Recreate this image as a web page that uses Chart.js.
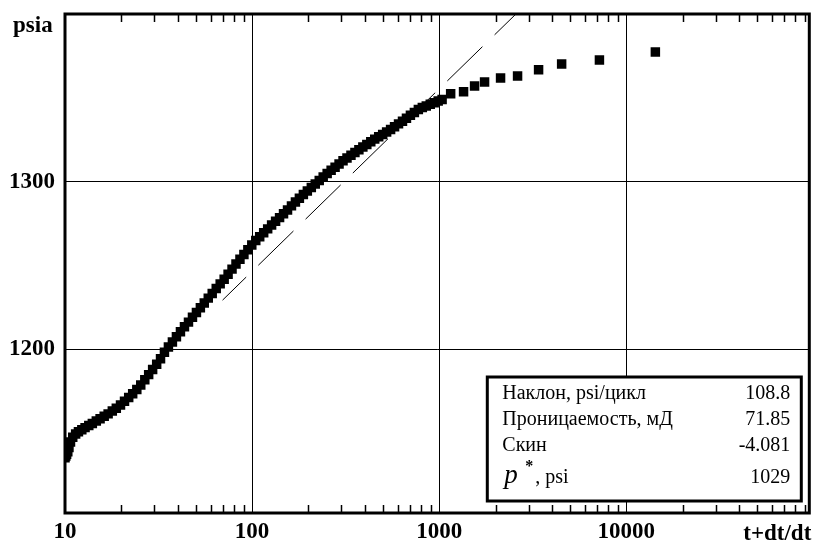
<!DOCTYPE html>
<html>
<head>
<meta charset="utf-8">
<script src="https://cdn.jsdelivr.net/npm/chart.js@4.4.1/dist/chart.umd.min.js"></script>
<style>
  html, body { margin: 0; padding: 0; background: #fff; }
  #wrap { width: 816px; height: 544px; }
</style>
</head>
<body>
<div id="wrap"><canvas id="horner" width="816" height="544"></canvas></div>
<script>
// Точки восстановления давления (t+dt/dt, psia)
const tRatio = [
  10.0, 10.1, 10.2, 10.35, 10.5, 10.7, 11.0, 11.4, 11.8, 12.3, 12.8, 13.4, 14.0, 14.7,
  15.4, 16.2, 17.0, 17.9, 18.8, 19.8, 20.8, 21.9, 23.0, 24.2, 25.4, 26.7, 28.0, 29.4,
  30.9, 32.4, 34.0, 35.7, 37.5, 39.4, 41.4, 43.5, 45.7, 48.0, 50.4, 52.9, 55.5, 58.3,
  61.2, 64.3, 67.5, 70.9, 74.4, 78.1, 82.0, 86.1, 90.4, 94.9, 99.6, 104.6, 109.8, 115.3,
  121.1, 127.1, 133.5, 140.2, 147.2, 154.6, 162.3, 170.4, 178.9, 187.9, 197.3, 207.2,
  217.5, 228.4, 239.8, 251.8, 264.4, 277.6, 291.5, 306.1, 321.4, 337.5, 354.4, 372.1,
  390.7, 410.2, 430.7, 452.2, 474.8, 498.5, 523.4, 549.6, 577.1, 606.0, 636.3, 668.1,
  701.5, 736.6, 773.4, 812.1, 852.7, 895.3, 940.1, 987.1, 1036,
  1151, 1349, 1545, 1747, 2127, 2622, 3396, 4510, 7180, 14290
];
const pressure = [
  1135.5, 1136.5, 1137.5, 1139.0, 1141.5, 1144.8, 1147.6, 1149.6, 1151.0, 1152.2, 1153.4, 1154.7, 1155.9, 1157.3,
  1158.7, 1160.2, 1161.6, 1163.3, 1165.0, 1166.9, 1169.1, 1171.3, 1173.6, 1176.1, 1178.8, 1181.9, 1185.0, 1188.0,
  1191.2, 1194.5, 1198.4, 1201.5, 1204.5, 1207.6, 1210.6, 1213.5, 1216.3, 1219.2, 1222.0, 1224.9, 1227.7, 1230.6,
  1233.4, 1236.3, 1239.1, 1241.9, 1244.9, 1247.9, 1250.9, 1253.8, 1256.6, 1259.5, 1262.3, 1264.9, 1267.2, 1269.6,
  1271.9, 1274.2, 1276.4, 1278.6, 1280.9, 1283.2, 1285.6, 1287.9, 1290.2, 1292.4, 1294.5, 1296.6,
  1298.7, 1300.8, 1302.8, 1304.9, 1306.8, 1308.7, 1310.6, 1312.5, 1314.2, 1315.8, 1317.4, 1319.1,
  1320.7, 1322.2, 1323.8, 1325.4, 1326.8, 1328.2, 1329.7, 1331.2, 1332.8, 1334.5, 1336.1, 1337.8,
  1339.6, 1341.3, 1343.1, 1344.2, 1345.2, 1346.2, 1347.1, 1348.1, 1349.0,
  1352.4, 1353.6, 1357.1, 1359.5, 1361.9, 1363.1, 1366.7, 1370.2, 1372.6, 1377.4
];

// Прямая полулогарифмического участка (концы)
const lineT = [69.5, 2570];
const lineP = [1229.4, 1400.0];

// Подписи осей
const xLabels = [10, 100, 1000, 10000];
const yLabels = [1200, 1300];

// Таблица результатов
const resultNames  = ['Наклон, psi/цикл', 'Проницаемость, мД', 'Скин'];
const resultValues = ['108.8', '71.85', '-4.081'];
const pStarValue = '1029';

const SERIF = '"Liberation Serif", "Times New Roman", serif';

// без лишних отступов под подписи, рамка ложится ровно куда надо
function noPad(scale) {
  scale.paddingTop = 0;
  scale.paddingBottom = 0;
  scale.paddingLeft = 0;
  scale.paddingRight = 0;
}

const hornerDecor = {
  id: 'hornerDecor',
  afterDraw(chart) {
    const { ctx, chartArea: a, scales: { x } } = chart;
    ctx.save();
    ctx.strokeStyle = '#000';
    ctx.fillStyle = '#000';

    // малые засечки внутрь рамки
    ctx.lineWidth = 1.5;
    x.ticks.forEach(t => {
      if (xLabels.includes(t.value)) return;
      const px = Math.round(x.getPixelForValue(t.value)) + 0.5;
      ctx.beginPath();
      ctx.moveTo(px, a.top); ctx.lineTo(px, a.top + 8);
      ctx.moveTo(px, a.bottom); ctx.lineTo(px, a.bottom - 8);
      ctx.stroke();
    });

    // блок результатов
    const bx = a.right - 322, by = a.bottom - 136;
    const bw = 314, bh = 124;
    ctx.fillStyle = '#fff';
    ctx.fillRect(bx, by, bw, bh);
    ctx.lineWidth = 3;
    ctx.strokeRect(bx, by, bw, bh);
    ctx.fillStyle = '#000';
    ctx.font = '20px ' + SERIF;
    ctx.textBaseline = 'alphabetic';
    resultNames.forEach((name, i) => {
      const y = by + 22 + i * 26;
      ctx.textAlign = 'left';
      ctx.fillText(name, bx + 15, y);
      ctx.textAlign = 'right';
      ctx.fillText(resultValues[i], bx + bw - 11, y);
    });
    const yp = by + 106;
    ctx.textAlign = 'left';
    ctx.font = 'italic 27px ' + SERIF;
    ctx.fillText('p', bx + 17, yp);
    ctx.font = 'bold 16px ' + SERIF;
    ctx.fillText('*', bx + 38, yp - 12);
    ctx.font = '20px ' + SERIF;
    ctx.fillText(', psi', bx + 48, yp);
    ctx.textAlign = 'right';
    ctx.fillText(pStarValue, bx + bw - 11, yp);

    // рамка
    ctx.lineWidth = 3;
    ctx.strokeRect(a.left, a.top, a.right - a.left, a.bottom - a.top);

    // названия осей
    ctx.font = 'bold 23px ' + SERIF;
    ctx.textAlign = 'left';
    ctx.fillText('psia', 13, a.top + 18);
    ctx.textAlign = 'right';
    ctx.fillText('t+dt/dt', a.right + 2, 540);
    ctx.restore();
  }
};

new Chart(document.getElementById('horner'), {
  type: 'scatter',
  data: {
    datasets: [
      {
        label: 'Давление',
        data: tRatio.map((t, i) => ({ x: t, y: pressure[i] })),
        pointStyle: 'rect',
        pointRadius: 6.7,
        backgroundColor: '#000',
        borderWidth: 0,
        order: 0,
      },
      {
        type: 'line',
        label: 'Прямая',
        data: lineT.map((t, i) => ({ x: t, y: lineP[i] })),
        borderColor: '#000',
        borderWidth: 1,
        borderDash: [49, 17],
        borderDashOffset: 16,
        pointRadius: 0,
        fill: false,
        order: 1,
      }
    ]
  },
  options: {
    responsive: false,
    animation: false,
    layout: { padding: { top: 14, right: 4, left: 0, bottom: 0 } },
    plugins: {
      legend: { display: false },
      tooltip: { enabled: false }
    },
    scales: {
      x: {
        type: 'logarithmic',
        min: 10, max: 95000,
        afterBuildTicks: scale => {
          const ticks = [];
          for (let k = 1; k <= 4; k++) {
            for (let m = 1; m <= 9; m++) ticks.push({ value: m * Math.pow(10, k) });
          }
          scale.ticks = ticks;
        },
        afterFit: scale => { scale.height = 31; noPad(scale); },
        border: { display: false },
        grid: {
          drawTicks: false,
          lineWidth: 1,
          color: c => (c.tick && xLabels.includes(c.tick.value) && c.tick.value !== 10) ? '#000' : 'rgba(0,0,0,0)'
        },
        ticks: {
          autoSkip: false,
          maxRotation: 0,
          padding: 5,
          color: '#000',
          font: { family: SERIF, size: 23, weight: 'bold' },
          callback: v => xLabels.includes(v) ? String(v) : ''
        }
      },
      y: {
        min: 1102.5, max: 1400,
        afterBuildTicks: scale => { scale.ticks = yLabels.map(v => ({ value: v })); },
        afterFit: scale => { scale.width = 65; noPad(scale); },
        border: { display: false },
        grid: { drawTicks: false, lineWidth: 1, color: '#000' },
        ticks: {
          padding: 10,
          color: '#000',
          font: { family: SERIF, size: 23, weight: 'bold' },
          callback: v => String(v)
        }
      }
    }
  },
  plugins: [hornerDecor]
});
</script>
</body>
</html>
